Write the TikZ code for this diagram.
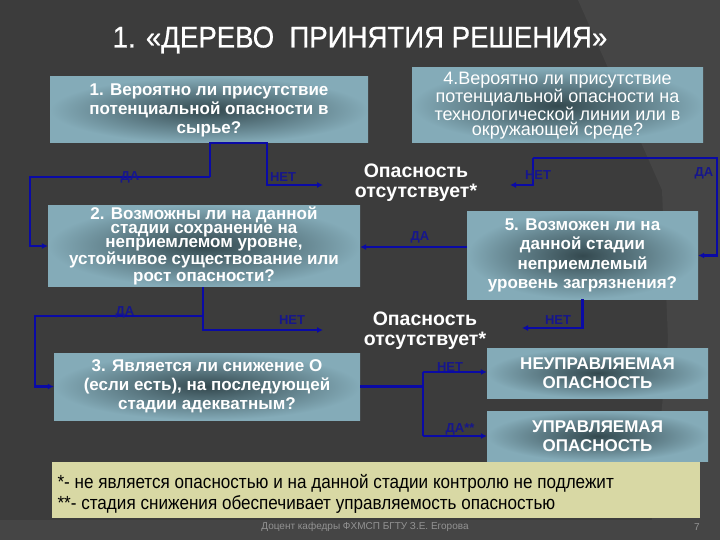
\documentclass[tikz,border=0pt]{standalone}
\usepackage{fontspec}
\setmainfont{Liberation Sans}
\newfontfamily\titlefont[FakeStretch=0.92,FakeBold=0.6]{Liberation Sans}
\newfontfamily\notefont[FakeStretch=0.9]{Liberation Sans}
\usetikzlibrary{arrows.meta}
\definecolor{bgc}{HTML}{3C3C3C}
\definecolor{bgl}{HTML}{454545}
\definecolor{boxout}{HTML}{84ABB8}
\definecolor{boxin}{HTML}{34494F}
\definecolor{linec}{HTML}{0A0AA6}
\definecolor{labc}{HTML}{16168C}
\definecolor{notec}{HTML}{D8D8A4}
\tikzset{
  qbox/.style={rectangle, inner sep=2pt, shading=radial, inner color=boxin, outer color=boxout,
    draw=none, align=center, text=white, font=\bfseries\fontsize{17}{19}\selectfont},
  conn/.style={draw=linec, line width=2.6pt},
  arr/.style={conn, -{Latex[length=6pt,width=6pt]}},
  lab/.style={text=labc, font=\bfseries\fontsize{13}{13}\selectfont, inner sep=0pt},
  absent/.style={text=white, align=center, font=\bfseries\fontsize{19.5}{20}\selectfont},
}
\begin{document}
\begin{tikzpicture}[x=1pt,y=-1pt]
\useasboundingbox (0,0) rectangle (720,540);
\fill[bgc] (0,0) rectangle (720,540);
\fill[bgl] (578,0) -- (720,0) -- (720,540) -- (650,540) -- (668,340) -- (662,190) -- cycle;
\fill[bgl] (0,520) rectangle (720,540);

\node[text=white, font=\titlefont\fontsize{30}{30}\selectfont] (title) at (360,40) {1. «ДЕРЕВО\ \ ПРИНЯТИЯ РЕШЕНИЯ»};

\node[qbox, minimum width=318pt, minimum height=66pt] (b1) at (209,110)
  {1. Вероятно ли присутствие\\ потенциальной опасности в\\ сырье?};
\node[qbox, minimum width=291pt, minimum height=75pt, font=\fontsize{18}{15.5}\selectfont] (b4) at (557.5,105.5)
  {4.Вероятно ли присутствие\\ потенциальной опасности на\\ технологической линии или в\\ окружающей среде?};
\node[qbox, minimum width=312pt, minimum height=72pt, font=\bfseries\fontsize{17}{14}\selectfont] (b2) at (204,246)
  {2. Возможны ли на данной\\ стадии сохранение на\\ неприемлемом уровне,\\ устойчивое существование или\\ рост опасности?};
\node[qbox, minimum width=231pt, minimum height=87pt, font=\bfseries\fontsize{17}{19.5}\selectfont] (b5) at (582.5,255.5)
  {5. Возможен ли на\\ данной стадии\\ неприемлемый\\ уровень загрязнения?};
\node[qbox, minimum width=306pt, minimum height=67pt] (b3) at (207,386.5)
  {3. Является ли снижение О\\ (если есть), на последующей\\ стадии адекватным?};
\node[qbox, minimum width=221pt, minimum height=50pt, font=\bfseries\fontsize{17}{19.5}\selectfont] (bn) at (597.5,373)
  {НЕУПРАВЛЯЕМАЯ\\ ОПАСНОСТЬ};
\node[qbox, minimum width=221pt, minimum height=50pt, font=\bfseries\fontsize{17}{19.5}\selectfont] (bu) at (597.5,436)
  {УПРАВЛЯЕМАЯ\\ ОПАСНОСТЬ};

\node[absent] (o1) at (416,183) {Опасность\\ отсутствует*};
\node[absent] (o2) at (425,331) {Опасность\\ отсутствует*};

% box 1 connectors
\draw[arr] (210,177) -- (30,177) |- (b2.west);
\draw[arr] (210,177) -- (210,143) -- (267,143) -- (267,185) -- (323,185);
% box 4 connectors
\draw[arr] (533,158) -- (717,158) |- (b5.east);
\draw[arr] (533,158) -- (533,185) -- (510,185);
% box 5 connectors
\draw[arr] (b5.west |- 0,247) -- (b2.east |- 0,247);
\draw[arr] (b5.south) -- (582.5,328) -- (522,328);
% box 2 connectors
\draw[arr] (b2.south -| 203,0) -- (203,330) -- (323,330);
\draw[arr] (203,316) -- (35,316) |- (b3.west);
% box 3 connectors
\draw[conn] (b3.east) -- (423,386.5);
\draw[conn] (423,372) -- (423,436);
\draw[arr] (423,372) -- (bn.west |- 0,372);
\draw[arr] (423,436) -- (bu.west);

% labels
\node[lab] (l1) at (130,177) {ДА};
\node[lab] (l2) at (283,177) {НЕТ};
\node[lab] (l3) at (538,175) {НЕТ};
\node[lab] (l4) at (704,173) {ДА};
\node[lab] (l5) at (420,237) {ДА};
\node[lab] (l6) at (558,320) {НЕТ};
\node[lab] (l7) at (125,312) {ДА};
\node[lab] (l8) at (292,320) {НЕТ};
\node[lab] (l9) at (450,367) {НЕТ};
\node[lab] (l10) at (460,429) {ДА**};

% note
\node[fill=notec, minimum width=648pt, minimum height=56pt, inner sep=0pt] (note) at (376,490) {};
\node[anchor=west, align=left, text=black, font=\notefont\fontsize{19}{21}\selectfont] (notet) at (54,494)
  {*- не является опасностью и на данной стадии контролю не подлежит\\ **- стадия снижения обеспечивает управляемость опасностью};

\node[text=gray!85, font=\fontsize{10}{10}\selectfont] (foot) at (365,527) {Доцент кафедры ФХМСП БГТУ З.Е. Егорова};
\node[text=gray!85, font=\fontsize{10}{10}\selectfont] (page) at (697,527) {7};
\end{tikzpicture}
\end{document}
